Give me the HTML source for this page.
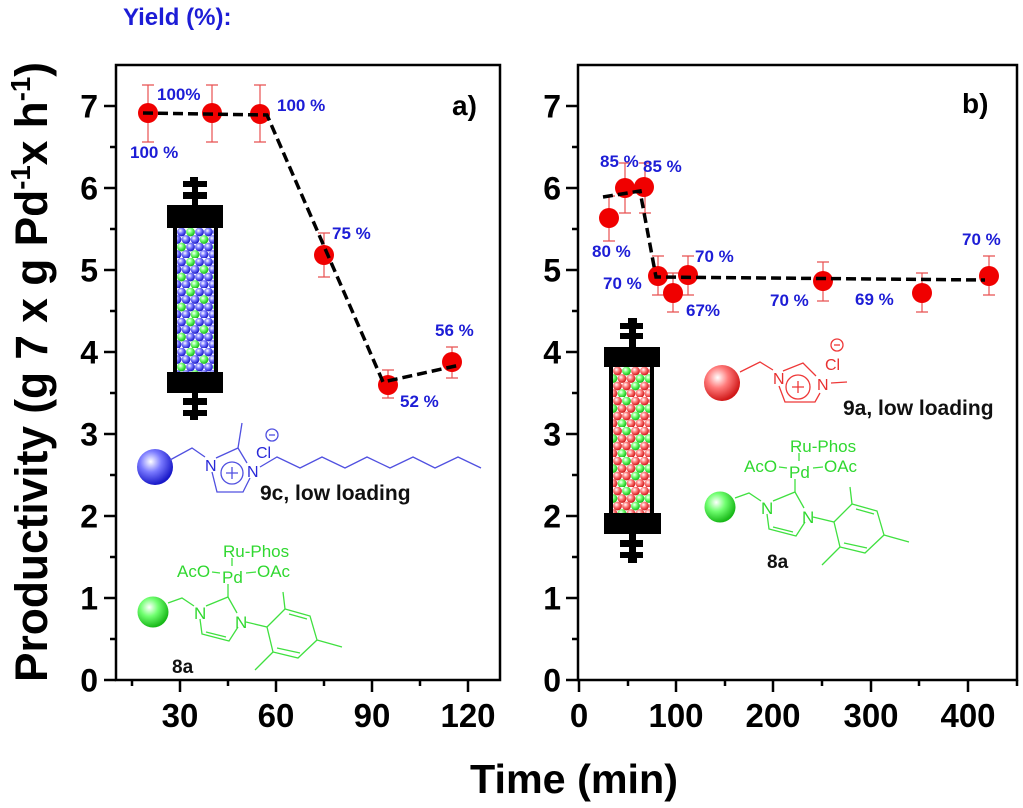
<!DOCTYPE html>
<html><head><meta charset="utf-8"><style>
html,body{margin:0;padding:0;background:#fff;}
svg{display:block;}
text{font-family:"Liberation Sans",Arial,sans-serif;}
</style></head><body>
<svg width="1023" height="808" viewBox="0 0 1023 808" xmlns="http://www.w3.org/2000/svg">
<defs>
<radialGradient id="gB" cx="38%" cy="35%" r="65%"><stop offset="0" stop-color="#ffffff"/><stop offset="0.45" stop-color="#7a7aff"/><stop offset="1" stop-color="#1818c8"/></radialGradient>
<radialGradient id="gG" cx="38%" cy="35%" r="65%"><stop offset="0" stop-color="#ffffff"/><stop offset="0.45" stop-color="#70ff70"/><stop offset="1" stop-color="#18b818"/></radialGradient>
<radialGradient id="gR" cx="38%" cy="35%" r="65%"><stop offset="0" stop-color="#ffffff"/><stop offset="0.45" stop-color="#ff7a7a"/><stop offset="1" stop-color="#d01818"/></radialGradient>
<pattern id="pA" patternUnits="userSpaceOnUse" x="177" y="228" width="36" height="30">
<rect width="36" height="30" fill="#fff"/>
<circle cx="4.5" cy="4" r="4.4" fill="url(#gB)"/><circle cx="13.5" cy="4" r="4.4" fill="url(#gG)"/><circle cx="22.5" cy="4" r="4.4" fill="url(#gB)"/><circle cx="31.5" cy="4" r="4.4" fill="url(#gB)"/>
<circle cx="0" cy="11.5" r="4.4" fill="url(#gB)"/><circle cx="9" cy="11.5" r="4.4" fill="url(#gB)"/><circle cx="18" cy="11.5" r="4.4" fill="url(#gB)"/><circle cx="27" cy="11.5" r="4.4" fill="url(#gG)"/><circle cx="36" cy="11.5" r="4.4" fill="url(#gB)"/>
<circle cx="4.5" cy="19" r="4.4" fill="url(#gG)"/><circle cx="13.5" cy="19" r="4.4" fill="url(#gB)"/><circle cx="22.5" cy="19" r="4.4" fill="url(#gB)"/><circle cx="31.5" cy="19" r="4.4" fill="url(#gB)"/>
<circle cx="0" cy="26.5" r="4.4" fill="url(#gB)"/><circle cx="9" cy="26.5" r="4.4" fill="url(#gB)"/><circle cx="18" cy="26.5" r="4.4" fill="url(#gG)"/><circle cx="27" cy="26.5" r="4.4" fill="url(#gB)"/><circle cx="36" cy="26.5" r="4.4" fill="url(#gB)"/>
</pattern>
<pattern id="pB" patternUnits="userSpaceOnUse" x="613" y="367" width="36" height="30">
<rect width="36" height="30" fill="#fff"/>
<circle cx="4.5" cy="4" r="4.4" fill="url(#gR)"/><circle cx="13.5" cy="4" r="4.4" fill="url(#gG)"/><circle cx="22.5" cy="4" r="4.4" fill="url(#gR)"/><circle cx="31.5" cy="4" r="4.4" fill="url(#gR)"/>
<circle cx="0" cy="11.5" r="4.4" fill="url(#gG)"/><circle cx="9" cy="11.5" r="4.4" fill="url(#gR)"/><circle cx="18" cy="11.5" r="4.4" fill="url(#gR)"/><circle cx="27" cy="11.5" r="4.4" fill="url(#gG)"/><circle cx="36" cy="11.5" r="4.4" fill="url(#gG)"/>
<circle cx="4.5" cy="19" r="4.4" fill="url(#gR)"/><circle cx="13.5" cy="19" r="4.4" fill="url(#gR)"/><circle cx="22.5" cy="19" r="4.4" fill="url(#gG)"/><circle cx="31.5" cy="19" r="4.4" fill="url(#gR)"/>
<circle cx="0" cy="26.5" r="4.4" fill="url(#gR)"/><circle cx="9" cy="26.5" r="4.4" fill="url(#gG)"/><circle cx="18" cy="26.5" r="4.4" fill="url(#gR)"/><circle cx="27" cy="26.5" r="4.4" fill="url(#gR)"/><circle cx="36" cy="26.5" r="4.4" fill="url(#gR)"/>
</pattern>
</defs>

<!-- Yield label -->
<text x="123" y="25" font-size="24" font-weight="bold" fill="#1d1dd6">Yield (%):</text>

<!-- Y axis title -->
<text transform="translate(47,372) rotate(-90)" text-anchor="middle" font-size="45" font-weight="bold" fill="#000" textLength="620" lengthAdjust="spacingAndGlyphs">Productivity (g 7 x g Pd<tspan font-size="28" dy="-17">-1</tspan><tspan dy="17">x h</tspan><tspan font-size="28" dy="-17">-1</tspan><tspan dy="17">)</tspan></text>

<!-- X axis title -->
<text x="470" y="793" font-size="41" font-weight="bold" fill="#000" textLength="208" lengthAdjust="spacingAndGlyphs">Time (min)</text>

<!-- ============ PANEL A ============ -->
<g stroke="#000" stroke-width="2.5" fill="none">
<rect x="116" y="65" width="384" height="615"/>
<path d="M104 680H116M104 598H116M104 516H116M104 434H116M104 352H116M104 270H116M104 188H116M104 106H116"/>
<path d="M110 639H116M110 557H116M110 475H116M110 393H116M110 311H116M110 229H116M110 147H116"/>
<path d="M180 680V692M276 680V692M372 680V692M468 680V692"/>
<path d="M132 680V686M228 680V686M324 680V686M420 680V686"/>
</g>
<g font-size="32" font-weight="bold" text-anchor="end" fill="#000">
<text x="98" y="691.5">0</text><text x="98" y="609.5">1</text><text x="98" y="527.5">2</text><text x="98" y="445.5">3</text><text x="98" y="363.5">4</text><text x="98" y="281.5">5</text><text x="98" y="199.5">6</text><text x="98" y="117.5">7</text>
</g>
<g font-size="33" font-weight="bold" text-anchor="middle" fill="#000">
<text x="180" y="727">30</text><text x="276" y="727">60</text><text x="372" y="727">90</text><text x="468" y="727">120</text>
</g>
<text x="452" y="115" font-size="28" font-weight="bold" fill="#000">a)</text>

<!-- column a -->
<g fill="#000">
<rect x="190" y="177" width="8" height="5"/><rect x="183" y="181" width="24" height="6"/><rect x="192" y="186" width="6" height="7"/><rect x="183" y="192" width="24" height="7"/><rect x="192" y="198" width="6" height="8"/>
<rect x="167" y="205" width="56" height="23"/>
<rect x="173" y="227" width="45" height="146"/>
<rect x="167" y="372" width="56" height="21"/>
<rect x="192" y="392" width="6" height="7"/><rect x="183" y="398" width="24" height="7"/><rect x="192" y="404" width="6" height="7"/><rect x="183" y="410" width="24" height="6"/><rect x="190" y="415" width="8" height="5"/>
</g>
<rect x="177" y="228" width="37" height="144" fill="url(#pA)"/>

<!-- error bars a -->
<g stroke="#e85050" stroke-width="1.2" fill="none">
<path d="M148 85V142M142 85H154M142 142H154"/>
<path d="M212 85V142M206 85H218M206 142H218"/>
<path d="M260 85V142M254 85H266M254 142H266"/>
<path d="M324 233V277M318 233H330M318 277H330"/>
<path d="M388 370V398M382 370H394M382 398H394"/>
<path d="M452 347V378M446 347H458M446 378H458"/>
</g>
<g fill="#f00000">
<circle cx="148" cy="113" r="10"/><circle cx="212" cy="113" r="10"/><circle cx="260" cy="114" r="10"/><circle cx="324" cy="255" r="10"/><circle cx="388" cy="385" r="10"/><circle cx="452" cy="362" r="10"/>
</g>
<polyline points="143,113 267,115 383,382 460,365" fill="none" stroke="#000" stroke-width="3.5" stroke-dasharray="10,5"/>

<g font-size="17" font-weight="bold" fill="#1d1dd6">
<text x="157" y="100">100%</text><text x="277" y="111">100 %</text><text x="130" y="158">100 %</text><text x="332" y="239">75 %</text><text x="435" y="336">56 %</text><text x="400" y="407">52 %</text>
</g>

<!-- 9c structure (blue) -->
<circle cx="155" cy="467" r="18" fill="url(#gB)"/>
<g stroke="#5050e0" stroke-width="1.3" fill="none">
<path d="M170 460L192 448L205 457"/>
<path d="M216 458L238 448L247 463"/>
<path d="M238 448L242 423"/>
<path d="M250 478L243 492L217 492L212 472"/>
<circle cx="232" cy="473" r="11"/>
<path d="M226 473H238M232 467V479"/>
<circle cx="272" cy="435" r="6"/>
<path d="M269 435H275"/>
<path d="M260 467L277 457L300 468L322 457L345 468L367 457L390 468L413 457L435 468L458 457L481 468"/>
</g>
<g font-size="16" fill="#2828d8">
<text x="205" y="471">N</text><text x="247" y="477">N</text><text x="256" y="458">Cl</text>
</g>
<text x="260" y="500" font-size="21" font-weight="bold" fill="#111">9c, low loading</text>

<!-- 8a structure (green) panel a -->
<g id="s8a">
<circle cx="153" cy="612" r="15.5" fill="url(#gG)"/>
<g stroke="#40e040" stroke-width="1.3" fill="none">
<path d="M168 603L182 598L194 606"/>
<path d="M206 606L228 597L237 613"/>
<path d="M238 627L229 641L202 634L200 619"/>
<path d="M226 637L206 632"/>
<path d="M228 597V584"/>
<path d="M232 558V566"/>
<path d="M212 572L220 573M246 573L256 572"/>
<path d="M246 622L267 627L285 609L310 616L317 640L298 658L273 652L267 627"/>
<path d="M289 614L307 619M300 653L277 648"/>
<path d="M285 609L283 592M317 640L342 647M273 652L255 670"/>
</g>
<g font-size="17" fill="#30d830">
<text x="223" y="557">Ru-Phos</text>
<text x="177" y="577">AcO</text>
<text x="222" y="583">Pd</text>
<text x="257" y="577">OAc</text>
<text x="194" y="619">N</text>
<text x="235" y="628">N</text>
</g>
</g>
<text x="172" y="673" font-size="19" font-weight="bold" fill="#111">8a</text>

<!-- ============ PANEL B ============ -->
<g stroke="#000" stroke-width="2.5" fill="none">
<rect x="578" y="65" width="439" height="615"/>
<path d="M566 680H578M566 598H578M566 516H578M566 434H578M566 352H578M566 270H578M566 188H578M566 106H578"/>
<path d="M572 639H578M572 557H578M572 475H578M572 393H578M572 311H578M572 229H578M572 147H578"/>
<path d="M579 680V692M676 680V692M773 680V692M871 680V692M968 680V692"/>
<path d="M628 680V686M725 680V686M822 680V686M919 680V686M1017 680V686"/>
</g>
<g font-size="32" font-weight="bold" text-anchor="end" fill="#000">
<text x="561" y="691.5">0</text><text x="561" y="609.5">1</text><text x="561" y="527.5">2</text><text x="561" y="445.5">3</text><text x="561" y="363.5">4</text><text x="561" y="281.5">5</text><text x="561" y="199.5">6</text><text x="561" y="117.5">7</text>
</g>
<g font-size="33" font-weight="bold" text-anchor="middle" fill="#000">
<text x="579" y="727">0</text><text x="676" y="727">100</text><text x="773" y="727">200</text><text x="871" y="727">300</text><text x="968" y="727">400</text>
</g>
<text x="962" y="113" font-size="28" font-weight="bold" fill="#000">b)</text>

<!-- column b -->
<g fill="#000">
<rect x="628" y="318" width="9" height="6"/><rect x="620" y="323" width="23" height="6"/><rect x="629" y="328" width="7" height="6"/><rect x="620" y="333" width="23" height="6"/><rect x="629" y="338" width="7" height="10"/>
<rect x="604" y="347" width="56" height="20"/>
<rect x="609" y="366" width="45" height="148"/>
<rect x="604" y="513" width="57" height="21"/>
<rect x="629" y="533" width="7" height="8"/><rect x="620" y="540" width="23" height="7"/><rect x="629" y="546" width="7" height="7"/><rect x="620" y="552" width="23" height="6"/><rect x="628" y="557" width="9" height="6"/>
</g>
<rect x="613" y="367" width="37" height="146" fill="url(#pB)"/>

<!-- error bars b -->
<g stroke="#e85050" stroke-width="1.2" fill="none">
<path d="M609 196V241M603 196H615M603 241H615"/>
<path d="M625 163V213M619 163H631M619 213H631"/>
<path d="M645 163V213M639 163H651M639 213H651"/>
<path d="M658 256V295M652 256H664M652 295H664"/>
<path d="M673 273V312M667 273H679M667 312H679"/>
<path d="M688 256V295M682 256H694M682 295H694"/>
<path d="M823 262V301M817 262H829M817 301H829"/>
<path d="M922 273V312M916 273H928M916 312H928"/>
<path d="M989 256V295M983 256H995M983 295H995"/>
</g>
<g fill="#f00000">
<circle cx="609" cy="218" r="10"/><circle cx="625" cy="188" r="10"/><circle cx="644" cy="187" r="10"/><circle cx="658" cy="276" r="10"/><circle cx="673" cy="293" r="10"/><circle cx="688" cy="275" r="10"/><circle cx="823" cy="281" r="10"/><circle cx="922" cy="293" r="10"/><circle cx="989" cy="276" r="10"/>
</g>
<polyline points="603,197 640,191 656,277 985,280" fill="none" stroke="#000" stroke-width="3.5" stroke-dasharray="10,5"/>

<g font-size="17" font-weight="bold" fill="#1d1dd6">
<text x="600" y="167">85 %</text><text x="643" y="172">85 %</text><text x="592" y="257">80 %</text><text x="695" y="262">70 %</text><text x="603" y="289">70 %</text><text x="686" y="316">67%</text><text x="770" y="306">70 %</text><text x="855" y="305">69 %</text><text x="962" y="245">70 %</text>
</g>

<!-- 9a structure (red) -->
<circle cx="722" cy="383" r="18" fill="url(#gR)"/>
<g stroke="#ee3838" stroke-width="1.3" fill="none">
<path d="M740 372L760 362L773 370"/>
<path d="M783 371L803 363L816 376"/>
<path d="M820 393L815 402L785 402L779 386"/>
<circle cx="798" cy="387" r="12"/>
<path d="M792 387H804M798 381V393"/>
<path d="M831 383L847 382"/>
<circle cx="837" cy="345" r="6"/>
<path d="M834 345H840"/>
</g>
<g font-size="16" fill="#e83030">
<text x="773" y="384">N</text><text x="817" y="390">N</text><text x="825" y="370">Cl</text>
</g>
<text x="843" y="415" font-size="21" font-weight="bold" fill="#111">9a, low loading</text>

<!-- 8a structure panel b -->
<use href="#s8a" transform="translate(567,-105)"/>
<text x="767" y="568" font-size="19" font-weight="bold" fill="#111">8a</text>
</svg>
</body></html>
